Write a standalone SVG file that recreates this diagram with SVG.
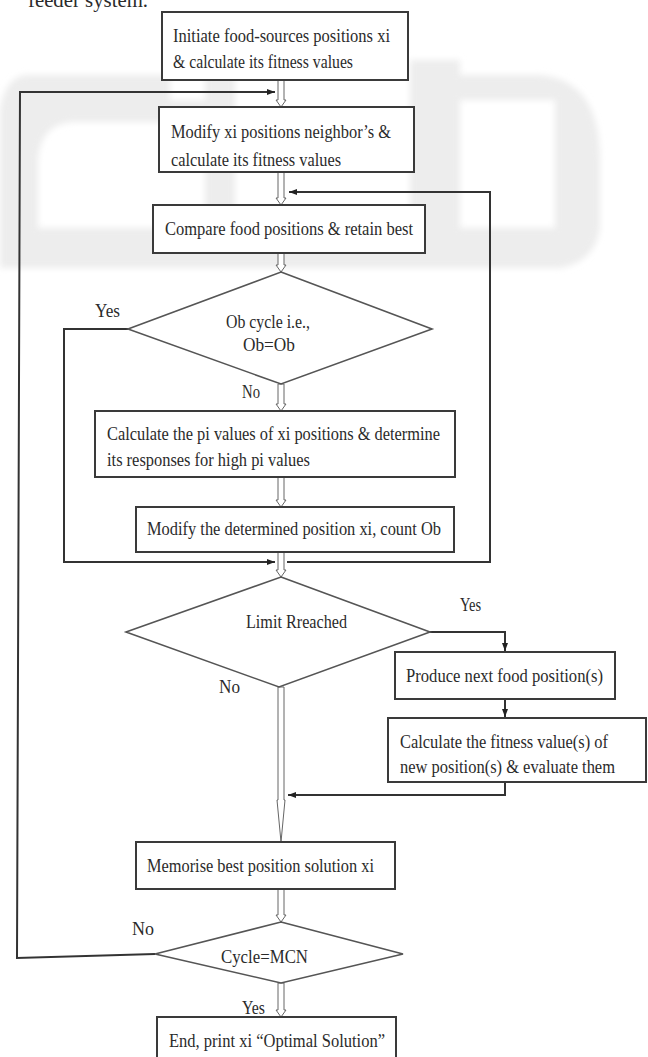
<svg xmlns="http://www.w3.org/2000/svg" width="648" height="1057" viewBox="0 0 648 1057">
<style>
.box{fill:#fff;stroke:#3a3a3a;stroke-width:2}
.dia{fill:#fff;stroke:#555;stroke-width:1.6}
.t{font-family:"Liberation Serif","Times New Roman",serif;font-size:19px;fill:#2b2b2b}
.conn{fill:none;stroke:#333;stroke-width:2}
.blk{fill:#fff;stroke:#666;stroke-width:1}
.wm{fill:#ededed}
</style>
<defs>
<marker id="ah" markerWidth="8" markerHeight="6" refX="8" refY="3" orient="auto" markerUnits="userSpaceOnUse">
<path d="M0,0 L8,3 L0,6 z" fill="#222"/>
</marker>
<filter id="soft" x="-10%" y="-10%" width="120%" height="120%"><feGaussianBlur stdDeviation="3"/></filter>
</defs>
<rect width="648" height="1057" fill="#fff"/>
<g id="watermark" class="wm" filter="url(#soft)">
<path d="M25,75 H170 V100 H207 V122 H72 Q40,125 38,160 V230 H0 V110 Q5,78 25,75 z"/>
<rect x="205" y="60" width="30" height="180"/>
<rect x="410" y="60" width="50" height="190"/>
<path d="M460,75 H540 Q600,80 600,160 V230 H555 V100 H460 z"/>
<path d="M0,228 H600 Q595,262 560,268 H0 z"/>
</g>
<text class="t" x="28" y="7" style="font-size:22px" textLength="120" lengthAdjust="spacingAndGlyphs">feeder system.</text>
<g id="connectors">
<path class="conn" d="M155,954 L17,958 L20,92 L275,92" marker-end="url(#ah)"/>
<path class="conn" d="M128,329 L64,329 L64,562 L275,562" marker-end="url(#ah)"/>
<path class="conn" d="M287,562 L490,562 L490,192 L289,192" marker-end="url(#ah)"/>
<path class="conn" d="M430,632 L505,632 L505,651" marker-end="url(#ah)"/>
<path class="conn" d="M505,699 L505,717" marker-end="url(#ah)"/>
<path class="conn" d="M505,782 L505,795 L288,795" marker-end="url(#ah)"/>
<polygon class="blk" points="278,80 278,100 276,100 281,107 286,100 284,100 284,80"/>
<polygon class="blk" points="278,172 278,198 276,198 281,205 286,198 284,198 284,172"/>
<polygon class="blk" points="278,253 278,265 276,265 281,272 286,265 284,265 284,253"/>
<polygon class="blk" points="278,384 278,404 276,404 281,411 286,404 284,404 284,384"/>
<polygon class="blk" points="278,477 278,500 276,500 281,507 286,500 284,500 284,477"/>
<polygon class="blk" points="278,552 278,570 276,570 281,577 286,570 284,570 284,552"/>
<polygon class="blk" points="278,687 278,800 277,800 281,842 285,800 284,800 284,687"/>
<polygon class="blk" points="278,889 278,915 276,915 281,922 286,915 284,915 284,889"/>
<polygon class="blk" points="278,983 278,1010 276,1010 281,1017 286,1010 284,1010 284,983"/>
</g>
<g id="n1">
<rect class="box" x="162" y="12" width="246" height="68"/>
<text class="t" x="173" y="42" textLength="217" lengthAdjust="spacingAndGlyphs">Initiate food-sources positions xi</text>
<text class="t" x="173" y="68" textLength="180" lengthAdjust="spacingAndGlyphs">&amp; calculate its fitness values</text>
</g>
<g id="n2">
<rect class="box" x="159" y="107" width="255" height="65"/>
<text class="t" x="171" y="138" textLength="220" lengthAdjust="spacingAndGlyphs">Modify xi positions neighbor’s &amp;</text>
<text class="t" x="171" y="166" textLength="170" lengthAdjust="spacingAndGlyphs">calculate its fitness values</text>
</g>
<g id="n3">
<rect class="box" x="153" y="205" width="272" height="48"/>
<text class="t" x="165" y="235" textLength="248" lengthAdjust="spacingAndGlyphs">Compare food positions &amp; retain best</text>
</g>
<g id="d1">
<polygon class="dia" points="281,272 432,329 281,384 128,329"/>
<text class="t" x="268" y="328" text-anchor="middle" textLength="84" lengthAdjust="spacingAndGlyphs">Ob cycle i.e.,</text>
<text class="t" x="269" y="351" text-anchor="middle" textLength="52" lengthAdjust="spacingAndGlyphs">Ob=Ob</text>
<text class="t" x="95" y="317" textLength="25" lengthAdjust="spacingAndGlyphs">Yes</text>
<text class="t" x="242" y="398" textLength="18" lengthAdjust="spacingAndGlyphs">No</text>
</g>
<g id="n4">
<rect class="box" x="95" y="411" width="360" height="66"/>
<text class="t" x="107" y="440" textLength="333" lengthAdjust="spacingAndGlyphs">Calculate the pi values of xi positions &amp; determine</text>
<text class="t" x="107" y="466" textLength="203" lengthAdjust="spacingAndGlyphs">its responses for high pi values</text>
</g>
<g id="n5">
<rect class="box" x="136" y="507" width="318" height="45"/>
<text class="t" x="147" y="535" textLength="294" lengthAdjust="spacingAndGlyphs">Modify the determined position xi, count Ob</text>
</g>
<g id="d2">
<polygon class="dia" points="281,577 430,632 279,687 126,632"/>
<text class="t" x="246" y="628" textLength="101" lengthAdjust="spacingAndGlyphs">Limit Rreached</text>
<text class="t" x="460" y="611" textLength="21" lengthAdjust="spacingAndGlyphs">Yes</text>
<text class="t" x="219" y="693" textLength="21" lengthAdjust="spacingAndGlyphs">No</text>
</g>
<g id="n6">
<rect class="box" x="395" y="652" width="220" height="47"/>
<text class="t" x="406" y="682" textLength="197" lengthAdjust="spacingAndGlyphs">Produce next food position(s)</text>
</g>
<g id="n7">
<rect class="box" x="388" y="718" width="258" height="64"/>
<text class="t" x="400" y="748" textLength="208" lengthAdjust="spacingAndGlyphs">Calculate the fitness value(s) of</text>
<text class="t" x="400" y="773" textLength="215" lengthAdjust="spacingAndGlyphs">new position(s) &amp; evaluate them</text>
</g>
<g id="n8">
<rect class="box" x="136" y="842" width="259" height="47"/>
<text class="t" x="147" y="872" textLength="227" lengthAdjust="spacingAndGlyphs">Memorise best position solution xi</text>
</g>
<g id="d3">
<polygon class="dia" points="281,922 403,954 281,983 155,954"/>
<text class="t" x="221" y="963" textLength="87" lengthAdjust="spacingAndGlyphs">Cycle=MCN</text>
<text class="t" x="132" y="935" textLength="22" lengthAdjust="spacingAndGlyphs">No</text>
<text class="t" x="242" y="1014" textLength="23" lengthAdjust="spacingAndGlyphs">Yes</text>
</g>
<g id="n9">
<rect class="box" x="157" y="1017" width="239" height="50"/>
<text class="t" x="169" y="1047" textLength="216" lengthAdjust="spacingAndGlyphs">End, print xi “Optimal Solution”</text>
</g>
</svg>
